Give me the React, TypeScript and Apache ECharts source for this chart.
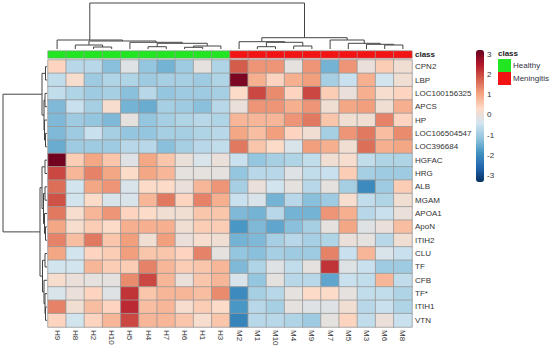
import React, { useEffect, useRef } from "react";
import * as echarts from "echarts";

const columns = ["H9","H8","H2","H10","H5","H4","H7","H6","H1","H3","M2","M1","M10","M4","M9","M7","M5","M3","M6","M8"];
const classNames = ["Healthy", "Meningitis"];
const classColors = ["#22e622", "#f21414"];
const columnClass = [0,0,0,0,0,0,0,0,0,0,1,1,1,1,1,1,1,1,1,1];
const rows = ["CPN2","LBP","LOC100156325","APCS","HP","LOC106504547","LOC396684","HGFAC","HRG","ALB","MGAM","APOA1","ApoN","ITIH2","CLU","TF","CFB","TF*","ITIH1","VTN"];

const values: number[][] = [
  [0.4,-0.7,-0.7,-1.2,-0.2,-1.1,-1.4,-1.0,-0.1,-0.8, 1.8,1.2,1.2,-0.1,1.2,-1.4,1.2,0.0,0.5,0.1],
  [-0.6,0.2,-1.0,-0.8,-0.8,-1.0,-0.9,-0.9,-1.0,-0.8, 3.0,0.9,0.4,0.9,1.1,-0.9,-0.5,0.9,-0.4,0.1],
  [-0.6,-0.8,-1.0,-0.9,-1.2,-0.7,-1.1,-1.0,-1.0,-0.9, 0.3,2.0,1.3,0.4,2.0,0.5,0.0,0.9,0.2,0.4],
  [-1.3,-0.5,-0.9,0.2,-1.4,-1.5,-0.9,-1.0,-1.2,-0.7, 0.0,1.2,1.2,0.9,1.2,0.1,1.0,1.1,0.1,0.9],
  [-1.3,-1.0,-1.1,-1.3,-0.1,-1.1,-0.9,-0.8,-0.7,-0.8, 0.8,0.8,0.8,1.2,1.5,0.6,0.1,0.1,1.4,0.4],
  [-1.3,-1.0,-0.5,-0.9,-1.1,-1.1,-0.9,-0.9,-0.8,-0.7, 1.0,0.7,1.1,0.4,0.1,-0.9,1.2,1.5,0.7,1.3],
  [-1.5,-1.0,-1.0,-1.0,-0.7,-0.7,-1.2,-0.9,-0.7,-0.6, 1.5,0.6,0.3,-0.3,1.1,0.9,0.1,1.6,0.9,1.0],
  [3.1,0.5,1.0,0.6,-0.2,1.0,0.6,0.0,-0.3,0.0, -0.5,-1.1,-0.9,-0.8,-0.6,0.1,0.2,-0.6,-0.8,-0.8],
  [2.0,0.8,1.4,1.0,0.3,1.0,0.8,-0.1,-0.1,-0.1, -1.1,-0.7,-0.7,-0.2,-0.6,-0.5,0.5,-0.9,-1.0,-1.0],
  [1.6,-0.4,1.0,1.2,-0.3,0.3,0.3,0.0,0.8,1.2, -0.9,0.0,-0.4,-0.1,-0.7,-0.1,-0.9,-2.0,-1.0,0.5],
  [1.9,-0.4,0.3,-0.3,-0.3,0.8,1.5,0.4,1.4,0.9, -0.5,-0.3,-1.4,-0.7,-1.2,-1.0,0.2,-0.6,-0.8,0.1],
  [1.5,0.2,0.8,1.2,0.4,0.3,0.1,0.1,0.6,0.6, -1.3,-1.4,-0.7,-1.4,-1.4,1.2,0.9,-0.7,-0.5,0.0],
  [1.0,0.2,0.5,0.3,0.9,0.9,0.9,0.1,0.5,0.5, -1.8,-1.3,-1.6,-1.2,-0.9,-0.1,1.0,-0.2,0.0,0.7],
  [1.4,0.7,1.5,0.6,1.1,0.1,1.1,0.0,0.2,0.1, -1.4,-1.3,-0.9,-0.7,-0.9,-0.8,0.0,-0.1,-0.7,0.1],
  [1.0,-0.4,0.4,0.5,1.1,0.6,0.6,0.4,1.4,-0.1, -1.1,-1.2,-0.9,-1.0,-1.0,1.4,-0.5,0.8,-0.3,-0.5],
  [-0.4,-0.4,0.8,0.5,0.5,1.4,0.8,0.5,0.6,0.8, -1.3,-0.8,-0.2,-0.6,-0.1,2.2,-0.2,-0.5,-1.0,-1.0],
  [0.2,0.0,-0.1,-0.1,1.3,2.0,0.8,0.0,0.6,0.8, -0.3,-1.1,-0.1,-0.7,-0.7,-1.6,-0.5,-0.6,0.8,-0.6],
  [-0.3,0.0,0.4,-0.2,2.2,0.6,0.8,0.8,0.7,1.3, -2.0,-0.9,-0.7,-0.1,0.3,0.3,-0.1,-0.6,-0.6,-0.8],
  [1.4,0.1,0.7,0.4,2.3,0.7,0.8,0.2,0.5,0.3, -1.8,-0.7,-0.9,-0.1,-0.2,-0.2,0.1,-0.7,-0.5,-0.8],
  [0.4,-0.4,0.4,0.8,2.0,0.8,0.8,0.6,0.2,0.6, -2.1,-0.7,-0.7,-0.8,-1.0,-0.1,0.4,-0.6,0.0,-0.5],
];

// linkage: [child a, child b, height]; leaves 0..19, merges numbered from 20
const colLinkage: [number, number, number][] = [
  [5,6,2.3],[7,8,1.7],[21,9,3],[20,22,5.7],[4,23,6.7],[2,3,2],[1,25,4],[26,24,8],[0,27,9],
  [11,12,2.3],[13,14,3],[29,30,6.7],[10,31,7.3],[18,19,4],[17,33,4.7],[16,34,5.7],[15,35,9],
  [32,36,11.3],[28,37,46],
];
const rowLinkage: [number, number, number][] = [
  [0,1,1.5],[2,3,2],[5,6,1.5],[4,22,2.5],[21,23,3],[20,24,5],
  [7,8,2],[9,10,2],[12,13,1.5],[11,28,2.5],[27,29,3.5],[26,30,5],
  [14,15,2],[18,19,1.5],[17,33,2],[16,34,3],[32,35,4.5],[31,36,7],[25,37,44],
];

const scaleTicks = [3, 2, 1, 0, -1, -2, -3];
const scaleMin = -3.3;
const scaleMax = 3.2;
const palette = ["#053061","#2166AC","#4393C3","#92C5DE","#D1E5F0","#FDDBC7","#F4A582","#D6604D","#B2182B","#67001F"];

function dendroSegments(link: [number, number, number][], n: number, flip: boolean) {
  const pos: number[] = [];
  const hgt: number[] = [];
  for (let i = 0; i < n; i++) { pos[i] = i + 0.5; hgt[i] = 0; }
  const out: any[] = [];
  link.forEach(([a, b, h], k) => {
    const id = n + k;
    pos[id] = (pos[a] + pos[b]) / 2;
    hgt[id] = h;
    const pts = [[pos[a], hgt[a]], [pos[a], h], [pos[b], h], [pos[b], hgt[b]]];
    out.push({ coords: flip ? pts.map(([p, v]) => [v, p]) : pts });
  });
  return out;
}

export default function App() {
  const ref = useRef<HTMLDivElement>(null);
  useEffect(() => {
    if (!ref.current) return;
    const chart = echarts.init(ref.current, null, { renderer: "svg" });
    const font = "Liberation Sans, Arial, sans-serif";
    const heat: any[] = [];
    values.forEach((row, r) => row.forEach((v, c) => heat.push([c, r, v])));
    const classData = columns.map((_, c) => [c, 0, columnClass[c]]);
    const barTop = 50, barH = 132, barLeft = 476;
    const tickTexts = scaleTicks.map((t) => ({
      type: "text",
      x: 487,
      y: barTop + ((scaleMax - t) / (scaleMax - scaleMin)) * barH,
      style: { text: String(t), fill: "#333", font: `8px ${font}`, textVerticalAlign: "middle" },
    }));
    const legendItems: any[] = [
      { type: "text", x: 498, y: 53, style: { text: "class", fill: "#222", font: `bold 8px ${font}`, textVerticalAlign: "middle" } },
    ];
    classNames.forEach((name, i) => {
      legendItems.push({ type: "rect", shape: { x: 498, y: 59 + i * 13, width: 13, height: 13 }, style: { fill: classColors[i] } });
      legendItems.push({ type: "text", x: 513, y: 65.5 + i * 13, style: { text: name, fill: "#334", font: `8px ${font}`, textVerticalAlign: "middle" } });
    });

    chart.setOption({
      animation: false,
      backgroundColor: "#fff",
      grid: [
        { left: 48, top: 60, width: 364, height: 267 },
        { left: 48, top: 51, width: 364, height: 7 },
        { left: 48, top: 2, width: 364, height: 47 },
        { left: 0, top: 60, width: 47, height: 267 },
      ],
      xAxis: [
        {
          type: "category", data: columns, gridIndex: 0, position: "bottom",
          axisLine: { show: false }, axisTick: { show: false }, splitLine: { show: false },
          axisLabel: { rotate: -90, margin: 3, fontSize: 8, color: "#333", fontFamily: font, interval: 0 },
        },
        { type: "category", data: columns, gridIndex: 1, show: false },
        { type: "value", gridIndex: 2, min: 0, max: 20, show: false },
        { type: "value", gridIndex: 3, min: 0, max: 47, inverse: true, show: false },
      ],
      yAxis: [
        {
          type: "category", data: rows, gridIndex: 0, inverse: true, position: "right",
          axisLine: { show: false }, axisTick: { show: false }, splitLine: { show: false },
          axisLabel: { margin: 3, fontSize: 8, color: "#333", fontFamily: font, interval: 0 },
        },
        {
          type: "category", data: ["class"], gridIndex: 1, position: "right",
          axisLine: { show: false }, axisTick: { show: false },
          axisLabel: { margin: 3, fontSize: 8, fontWeight: "bold", color: "#222", fontFamily: font },
        },
        { type: "value", gridIndex: 2, min: 0, max: 47, show: false },
        { type: "value", gridIndex: 3, min: 0, max: 20, inverse: true, show: false },
      ],
      visualMap: [
        {
          type: "continuous", seriesIndex: 0, min: scaleMin, max: scaleMax,
          inRange: { color: palette }, calculable: false, hoverLink: false,
          left: barLeft, top: barTop, itemWidth: 8, itemHeight: barH, padding: 0,
          orient: "vertical", showLabel: false,
        },
        {
          type: "piecewise", seriesIndex: 1, show: false,
          pieces: classNames.map((_, i) => ({ value: i, color: classColors[i] })),
        },
      ],
      series: [
        {
          type: "heatmap", xAxisIndex: 0, yAxisIndex: 0, data: heat,
          itemStyle: { borderColor: "#999", borderWidth: 0.8 },
          emphasis: { disabled: true },
        },
        {
          type: "heatmap", xAxisIndex: 1, yAxisIndex: 1, data: classData,
          itemStyle: { borderColor: "#999", borderWidth: 0.6 },
          emphasis: { disabled: true },
        },
        {
          type: "lines", coordinateSystem: "cartesian2d", xAxisIndex: 2, yAxisIndex: 2, polyline: true,
          data: dendroSegments(colLinkage, columns.length, false),
          lineStyle: { color: "#444", width: 1, opacity: 1 }, silent: true,
        },
        {
          type: "lines", coordinateSystem: "cartesian2d", xAxisIndex: 3, yAxisIndex: 3, polyline: true,
          data: dendroSegments(rowLinkage, rows.length, true),
          lineStyle: { color: "#444", width: 1, opacity: 1 }, silent: true,
        },
      ],
      graphic: [...tickTexts, ...legendItems],
    });
    return () => chart.dispose();
  }, []);
  return <div ref={ref} style={{ position: "fixed", left: 0, top: 0, width: 550, height: 349, background: "#fff" }} />;
}
